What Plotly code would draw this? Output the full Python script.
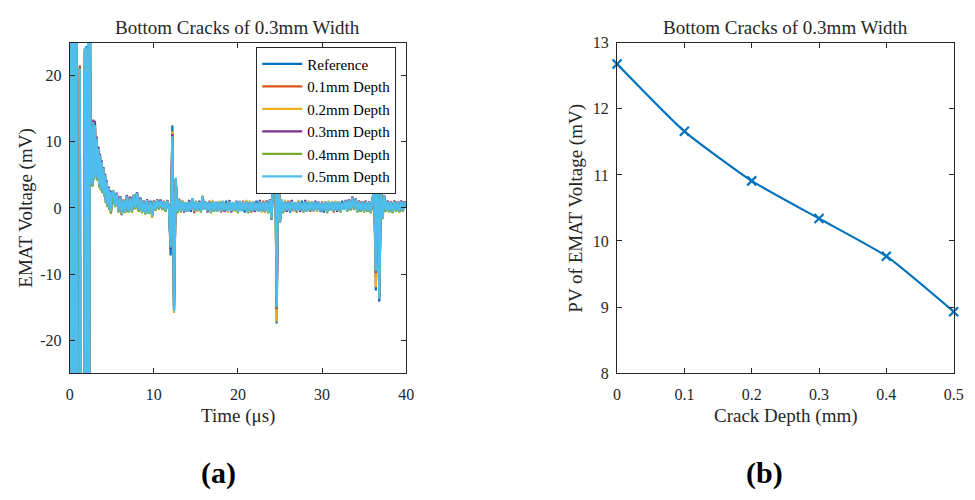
import plotly.graph_objects as go

# ---------------------------------------------------------------------------
# (a) EMAT received waveforms, bottom cracks of 0.3 mm width
# ---------------------------------------------------------------------------
# sampling grid: 0.1 us up to 5 us, then 0.2 us up to 40 us
t_us = [round(0.1 * i, 1) for i in range(51)] + [round(5.2 + 0.2 * i, 1) for i in range(175)]

v_ref = [
    5.5, -45, 60, -70, 70, -70, 60, -60, 50, -80,
    -90, -70, 20.5, -80, -90, -90, -90, -90, 24.0, -70,
    24.5, -60, 40, -40, 28, 4.5, 12.5, 3.8, 12.8, 4.8,
    12.2, 5.2, 10.2, 4.8, 8.8, 3.6, 7.8, 3.2, 6.8, 2.6,
    5.8, 2.2, 4.8, 1.2, 3.8, 0.6, 3.2, 0.2, 2.6, -0.3,
    2.2,
    2.4, 0.5, 2.0, -0.2, 1.8, -0.8, 1.0, -0.4, 2.0, -0.3,
    1.7, -0.2, 1.8, 0.2, 2.1, -0.5, 1.6, -0.4, 0.8, -0.6,
    1.0, -0.5, 1.1, -1.0, 0.8, -0.4, 1.0, 0.2, 1.3, -0.3,
    0.8, -0.5, 1.0, 0.3, -7.2, 12.5, -14.5, 3.8, -0.4, 1.1,
    -0.3, 0.9, -0.4, 0.8, -0.5, 0.9, -0.6, 1.4, -0.4, 0.8,
    -0.3, 0.8, -0.4, 1.7, -0.2, 0.9, -0.4, 0.8, -0.5, 0.9,
    -0.3, 0.9, -0.5, 0.8, -0.4, 1.0, -0.3, 1.1, -0.4, 0.9,
    -0.4, 0.8, -0.3, 0.9, -0.5, 1.0, -0.4, 0.8, -0.7, 0.9,
    -0.5, 0.8, -0.4, 0.9, -0.3, 1.1, -0.5, 0.9, -0.4, 0.8,
    -0.4, 0.9, -0.5, 1.1, -1.8, 5.5, 17.0, -17.5, 7.5, -2.2,
    1.1, -0.5, 0.9, -0.3, 0.8, -0.7, 0.9, -0.3, 0.8, -0.4,
    0.9, -0.3, 1.1, -0.4, 0.9, -0.5, 0.8, -0.3, 0.9, -0.4,
    0.8, -0.3, 0.9, -0.4, 0.7, -0.7, 0.9, -0.5, 0.8, -0.3,
    0.9, -0.4, 0.8, -0.3, 0.9, -0.4, 1.1, -0.2, 1.0, -0.3,
    1.1, -0.1, 1.5, 0.0, 1.4, -0.4, 0.9, -0.6, 0.8, -0.4,
    0.9, -0.3, 0.8, -0.5, 1.0, 3.5, -12.5, 15.0, -14.2, 3.5,
    -1.3, 1.6, -0.6, 0.9, -0.4, 0.8, -0.5, 0.9, -0.3, 0.8,
    -0.4, 0.9, -0.3, 0.8, 0.4,
]

v_01 = [
    5.0, -45, 60, -70, 70, -70, 60, -60, 50, -80,
    -90, -70, 21.6, -80, -90, -90, -90, -90, 24.0, -70,
    24.2, -60, 40, -40, 29, 4.2, 12.2, 3.6, 13.0, 4.4,
    12.6, 4.9, 10.6, 4.4, 9.2, 3.3, 8.1, 2.9, 7.1, 2.4,
    6.1, 1.9, 5.1, 0.9, 4.1, 0.4, 3.1, -0.1, 2.6, -0.6,
    2.1,
    2.5, 0.2, 2.3, -0.5, 1.5, -1.0, 1.3, -0.7, 1.7, -0.6,
    1.6, -0.5, 1.9, -0.1, 2.4, -0.2, 1.3, -0.7, 1.1, -0.9,
    1.3, -0.8, 0.8, -1.1, 1.1, -0.3, 1.3, -0.2, 1.0, -0.2,
    1.1, -0.4, 1.2, 0.0, -5.5, 11.0, -15.2, 4.3, -0.7, 1.4,
    -0.3, 0.9, -0.4, 0.8, -0.5, 0.9, -0.2, 1.4, -0.8, 0.8,
    -0.3, 0.8, -0.4, 1.7, -0.1, 0.9, -0.4, 1.1, -0.5, 0.9,
    -0.3, 0.9, -0.5, 0.8, -0.7, 1.0, -0.3, 0.7, -0.4, 0.9,
    -0.4, 0.8, -0.3, 0.9, -0.5, 1.0, -0.4, 1.1, -0.3, 0.9,
    -0.5, 0.8, -0.7, 0.9, -0.3, 0.7, -0.5, 0.9, -0.4, 1.1,
    -0.6, 1.1, -0.5, 1.1, -1.4, 4.8, 16.5, -15.8, 6.8, -1.9,
    1.2, -0.5, 0.9, -0.3, 1.1, -0.4, 0.9, -0.3, 0.8, -0.7,
    0.9, -0.3, 0.7, -0.4, 0.9, -0.5, 0.8, -0.6, 0.9, -0.4,
    0.8, -0.3, 0.9, -0.4, 1.0, -0.3, 0.9, -0.5, 0.8, -0.3,
    0.9, -0.7, 0.8, -0.3, 0.9, -0.4, 0.7, -0.2, 1.0, -0.3,
    1.3, -0.2, 1.7, 0.0, 1.2, -0.6, 1.1, -0.3, 0.8, -0.6,
    1.1, -0.3, 0.8, -0.7, 1.3, 2.8, -10.5, 14.5, -13.5, 2.8,
    -1.6, 1.7, -0.3, 1.1, -0.6, 0.8, -0.7, 1.1, -0.3, 0.8,
    -0.6, 1.1, -0.3, 0.8, 0.2,
]

v_02 = [
    4.5, -45, 60, -70, 70, -70, 60, -60, 50, -80,
    -90, -70, 21.0, -80, -90, -90, -90, -90, 24.2, -70,
    24.0, -60, 40, -40, 29, 4.0, 12.4, 3.4, 12.9, 4.3,
    12.4, 5.1, 10.4, 4.6, 9.1, 3.4, 7.9, 3.1, 6.9, 2.3,
    5.9, 2.1, 4.9, 1.1, 3.9, 0.3, 3.0, 0.1, 2.4, -0.7,
    2.0,
    2.7, 0.1, 2.1, -0.6, 1.7, -0.9, 1.1, -0.8, 1.9, -0.4,
    1.4, -0.6, 2.1, 0.1, 2.2, -0.4, 1.5, -0.5, 0.9, -0.7,
    1.1, -0.6, 1.0, -1.5, 0.9, -0.4, 1.1, -0.1, 1.2, 0.0,
    0.9, -0.4, 0.9, 0.2, -5.0, 11.6, -15.9, 4.0, -0.5, 1.2,
    -0.3, 1.2, -0.4, 0.8, -0.5, 0.9, -0.2, 1.4, -0.4, 0.8,
    -0.6, 0.8, -0.4, 1.9, -0.1, 0.9, -0.4, 0.8, -0.5, 1.2,
    -0.3, 0.9, -0.5, 1.1, -0.4, 1.0, -0.3, 0.7, -0.7, 0.9,
    -0.4, 0.8, -0.6, 0.9, -0.5, 1.0, -0.4, 0.8, -0.3, 1.2,
    -0.5, 1.1, -0.4, 0.9, -0.3, 0.7, -0.5, 0.9, -0.7, 0.8,
    -0.4, 0.9, -0.5, 1.1, -1.6, 5.2, 16.2, -17.2, 7.2, -2.1,
    1.2, -0.5, 1.2, -0.3, 0.8, -0.4, 0.9, -0.6, 0.8, -0.4,
    1.2, -0.3, 0.7, -0.4, 0.9, -0.5, 1.1, -0.3, 0.9, -0.6,
    0.8, -0.6, 0.9, -0.4, 0.7, -0.3, 0.9, -0.5, 1.1, -0.3,
    0.9, -0.4, 1.1, -0.3, 0.9, -0.6, 0.7, -0.2, 1.0, -0.3,
    1.1, -0.3, 1.5, -0.2, 1.4, -0.4, 0.9, -0.5, 1.0, -0.4,
    0.9, -0.5, 1.0, -0.5, 1.1, 3.2, -12.0, 14.2, -13.6, 3.2,
    -1.4, 1.7, -0.5, 0.9, -0.4, 1.0, -0.5, 0.9, -0.5, 1.0,
    -0.4, 0.9, -0.5, 1.0, 0.3,
]

v_03 = [
    5.0, -45, 60, -70, 70, -70, 60, -60, 50, -80,
    -90, -70, 21.3, -80, -90, -90, -90, -90, 23.5, -70,
    23.8, -60, 40, -40, 28, 4.1, 12.8, 3.3, 13.4, 4.6,
    13.2, 4.8, 10.8, 4.3, 9.3, 3.2, 8.2, 2.8, 7.2, 2.3,
    6.2, 1.8, 5.2, 0.8, 4.2, 0.2, 3.2, -0.2, 2.7, -0.8,
    2.3,
    2.5, 0.4, 2.3, -0.3, 1.7, -1.1, 1.1, -0.5, 1.9, -0.6,
    1.6, -0.3, 1.9, 0.1, 2.4, -0.4, 1.5, -0.5, 1.1, -0.7,
    1.3, -0.6, 1.0, -1.1, 1.1, -0.1, 1.3, 0.1, 1.2, 0.0,
    1.0, -0.4, 1.1, 0.2, -6.2, 11.2, -15.4, 4.4, -0.5, 1.3,
    -0.3, 0.9, -0.7, 0.8, -0.5, 1.2, -0.2, 1.4, -0.4, 0.8,
    -0.3, 1.1, -0.4, 1.7, -0.1, 0.9, -0.7, 0.8, -0.5, 0.9,
    -0.3, 0.9, -0.5, 0.8, -0.4, 1.0, -0.6, 0.7, -0.4, 1.2,
    -0.7, 0.8, -0.3, 1.1, -0.5, 1.0, -0.4, 0.8, -0.3, 0.9,
    -0.5, 0.8, -0.4, 0.9, -0.6, 0.7, -0.5, 1.2, -0.4, 0.8,
    -0.6, 1.1, -0.5, 1.3, -1.5, 5.1, 16.2, -15.3, 7.1, -2.0,
    1.2, -0.5, 0.9, -0.6, 0.8, -0.4, 1.2, -0.3, 0.8, -0.4,
    0.9, -0.6, 0.7, -0.4, 1.2, -0.5, 0.8, -0.3, 0.9, -0.4,
    1.1, -0.3, 0.9, -0.6, 0.7, -0.3, 0.9, -0.5, 0.8, -0.3,
    0.9, -0.4, 0.8, -0.6, 0.9, -0.4, 0.7, -0.2, 1.2, -0.3,
    1.3, -0.3, 1.7, -0.2, 1.4, -0.4, 1.1, -0.5, 1.0, -0.4,
    1.1, -0.5, 1.0, -0.5, 1.3, 3.1, -9.8, 14.3, -13.9, 3.1,
    -1.5, 1.9, -0.5, 1.1, -0.4, 1.0, -0.5, 1.1, -0.5, 1.0,
    -0.4, 1.1, -0.5, 1.0, 0.4,
]

v_04 = [
    4.8, -45, 60, -70, 70, -70, 60, -60, 50, -80,
    -90, -70, 21.2, -80, -90, -90, -90, -90, 24.1, -70,
    24.0, -60, 40, -40, 29, 4.4, 12.3, 3.2, 12.7, 4.2,
    12.3, 4.7, 10.3, 4.1, 8.9, 3.1, 7.7, 2.6, 6.7, 2.2,
    5.7, 1.7, 4.7, 0.7, 3.7, 0.1, 2.9, -0.3, 2.3, -0.9,
    1.9,
    2.3, 0.2, 2.0, -0.7, 1.4, -1.0, 1.0, -0.7, 1.6, -0.7,
    1.3, -0.7, 1.8, -0.2, 2.1, -0.6, 1.3, -0.8, 0.9, -1.0,
    1.0, -0.9, 0.8, -1.3, 0.9, -0.4, 1.0, -0.2, 1.0, -0.3,
    0.8, -0.6, 1.0, -0.1, -5.8, 10.9, -15.5, 4.2, -0.8, 1.1,
    -0.7, 0.9, -0.4, 0.8, -0.5, 0.9, -0.2, 1.4, -0.4, 1.1,
    -0.3, 0.8, -0.7, 1.7, -0.1, 0.9, -0.4, 0.8, -0.8, 0.9,
    -0.6, 0.9, -0.5, 0.8, -0.4, 1.0, -0.3, 0.7, -0.4, 0.9,
    -0.4, 0.8, -0.3, 0.9, -0.8, 1.0, -0.4, 0.8, -0.3, 0.9,
    -0.8, 0.8, -0.4, 0.9, -0.3, 0.7, -0.5, 0.9, -0.4, 0.8,
    -0.7, 0.9, -0.8, 1.0, -1.7, 4.9, 15.8, -15.1, 6.9, -2.1,
    1.1, -0.8, 0.9, -0.3, 0.8, -0.4, 0.9, -0.3, 0.8, -0.4,
    0.9, -0.3, 0.7, -0.7, 0.9, -0.5, 0.8, -0.3, 0.9, -0.4,
    0.8, -0.3, 0.9, -0.4, 0.7, -0.3, 0.9, -0.8, 0.8, -0.3,
    0.9, -0.4, 0.8, -0.3, 0.9, -0.7, 0.7, -0.2, 1.0, -0.6,
    1.1, -0.4, 1.5, -0.3, 1.2, -0.7, 0.9, -0.6, 0.8, -0.7,
    0.9, -0.6, 0.8, -0.8, 1.1, 2.9, -9.6, 13.8, -13.7, 2.9,
    -1.7, 1.6, -0.6, 0.9, -0.7, 0.8, -0.8, 0.9, -0.6, 0.8,
    -0.7, 0.9, -0.6, 0.8, 0.1,
]

v_05 = [
    5.0, -45, 60, -70, 70, -70, 60, -60, 50, -80,
    -90, -70, 21.0, -80, -90, -90, -90, -90, 24.3, -70,
    24.3, -60, 40, -40, 30, 4.0, 12.0, 3.5, 13.0, 4.5,
    12.5, 5.0, 10.5, 4.5, 9.0, 3.5, 8.0, 3.0, 7.0, 2.5,
    6.0, 2.0, 5.0, 1.0, 4.0, 0.5, 3.0, 0.0, 2.5, -0.5,
    2.0,
    2.6, 0.3, 2.2, -0.4, 1.6, -0.9, 1.2, -0.6, 1.8, -0.5,
    1.5, -0.4, 2.0, 0.0, 2.3, -0.3, 1.4, -0.6, 1.0, -0.8,
    1.2, -0.7, 0.9, -1.2, 1.0, -0.2, 1.2, 0.0, 1.1, -0.1,
    1.0, -0.3, 1.1, 0.1, -6.0, 10.8, -15.6, 4.6, -0.6, 1.3,
    -0.4, 1.0, -0.5, 0.9, -0.6, 1.0, -0.3, 1.5, -0.5, 0.9,
    -0.4, 0.9, -0.5, 1.8, -0.2, 1.0, -0.5, 0.9, -0.6, 1.0,
    -0.4, 1.0, -0.6, 0.9, -0.5, 1.1, -0.4, 0.8, -0.5, 1.0,
    -0.5, 0.9, -0.4, 1.0, -0.6, 1.1, -0.5, 0.9, -0.4, 1.0,
    -0.6, 0.9, -0.5, 1.0, -0.4, 0.8, -0.6, 1.0, -0.5, 0.9,
    -0.5, 1.0, -0.6, 1.2, -1.5, 5.0, 16.0, -15.0, 7.0, -2.0,
    1.3, -0.6, 1.0, -0.4, 0.9, -0.5, 1.0, -0.4, 0.9, -0.5,
    1.0, -0.4, 0.8, -0.5, 1.0, -0.6, 0.9, -0.4, 1.0, -0.5,
    0.9, -0.4, 1.0, -0.5, 0.8, -0.4, 1.0, -0.6, 0.9, -0.4,
    1.0, -0.5, 0.9, -0.4, 1.0, -0.5, 0.8, -0.3, 1.1, -0.4,
    1.2, -0.2, 1.6, -0.1, 1.3, -0.5, 1.0, -0.4, 0.9, -0.5,
    1.0, -0.4, 0.9, -0.6, 1.2, 3.0, -9.5, 14.0, -13.8, 3.0,
    -1.5, 1.8, -0.4, 1.0, -0.5, 0.9, -0.6, 1.0, -0.4, 0.9,
    -0.5, 1.0, -0.4, 0.9, 0.3,
]

wave_names = ["Reference", "0.1mm Depth", "0.2mm Depth", "0.3mm Depth", "0.4mm Depth", "0.5mm Depth"]
wave_values = [v_ref, v_01, v_02, v_03, v_04, v_05]
wave_colors = ["#0072BD", "#D95319", "#EDB120", "#7E2F8E", "#77AC30", "#4DBEEE"]

# ---------------------------------------------------------------------------
# (b) peak value of the EMAT voltage against crack depth
# ---------------------------------------------------------------------------
crack_depth_mm = [0.0, 0.1, 0.2, 0.3, 0.4, 0.5]
pv_mv = [12.68, 11.66, 10.91, 10.34, 9.77, 8.93]

for vals in wave_values:
    assert len(vals) == len(t_us)

FONT = "Liberation Serif"
AXIS_COLOR = "#262626"
FIG_W, FIG_H = 975, 500


def px_x(x):
    return x / FIG_W


def px_y(y):
    return 1 - y / FIG_H


fig = go.Figure()

for name, vals, col in zip(wave_names, wave_values, wave_colors):
    fig.add_trace(go.Scatter(
        x=t_us, y=vals, name=name, mode="lines",
        line=dict(color=col, width=2.2, simplify=False),
        xaxis="x", yaxis="y",
    ))

fig.add_trace(go.Scatter(
    x=crack_depth_mm, y=pv_mv, mode="lines+markers", showlegend=False,
    line=dict(color="#0072BD", width=2.2, shape="spline", smoothing=0.5),
    marker=dict(symbol="x-thin", size=9, line=dict(color="#0072BD", width=2.2)),
    xaxis="x2", yaxis="y2", cliponaxis=False,
))

axis_common = dict(
    showline=True, linecolor=AXIS_COLOR, linewidth=1, mirror="allticks",
    ticks="inside", ticklen=5, tickcolor=AXIS_COLOR, tickwidth=1,
    showgrid=False, zeroline=False,
    tickfont=dict(family=FONT, size=16, color=AXIS_COLOR),
)

ydom = [px_y(378), px_y(36)]

fig.update_layout(
    width=FIG_W, height=FIG_H,
    margin=dict(l=0, r=0, t=0, b=0),
    paper_bgcolor="white", plot_bgcolor="white",
    showlegend=True,
    xaxis=dict(domain=[px_x(66.7), px_x(408)], range=[0, 40],
               tickvals=[0, 10, 20, 30, 40], anchor="y",
               ticklabelstandoff=7, **axis_common),
    yaxis=dict(domain=ydom, range=[-25, 25],
               tickvals=[-20, -10, 0, 10, 20],
               ticktext=["-20", "-10", "0", "10", "20"], anchor="x",
               ticklabelstandoff=4, **axis_common),
    xaxis2=dict(domain=[px_x(622), px_x(963.5)], range=[0, 0.5],
                tickvals=[0, 0.1, 0.2, 0.3, 0.4, 0.5],
                ticktext=["0", "0.1", "0.2", "0.3", "0.4", "0.5"], anchor="y2",
                ticklabelstandoff=7, **axis_common),
    yaxis2=dict(domain=ydom, range=[8, 13], tickvals=[8, 9, 10, 11, 12, 13],
                anchor="x2", ticklabelstandoff=4, **axis_common),
    legend=dict(
        x=px_x(398), y=px_y(40), xanchor="right", yanchor="top",
        bgcolor="white", bordercolor=AXIS_COLOR, borderwidth=1,
        font=dict(family=FONT, size=15, color="black"),
        tracegroupgap=0, itemwidth=40,
    ),
)


def label(text, x_px, y_px, size, angle=0, bold=False, color=AXIS_COLOR):
    fig.add_annotation(
        text=f"<b>{text}</b>" if bold else text,
        x=px_x(x_px), y=px_y(y_px), xref="paper", yref="paper",
        showarrow=False, textangle=angle, xanchor="center", yanchor="middle",
        font=dict(family=FONT, size=size, color=color),
    )


label("Bottom Cracks of 0.3mm Width", 237, 20, 19)
label("Bottom Cracks of 0.3mm Width", 793, 20, 19)
label("Time (μs)", 237, 422, 19)
label("Crack Depth (mm)", 793, 422, 19)
label("EMAT Voltage (mV)", 22, 207, 19, angle=-90)
label("PV of EMAT Voltage (mV)", 580, 207, 19, angle=-90)
label("(a)", 218, 481, 30, bold=True, color="black")
label("(b)", 772, 481, 30, bold=True, color="black")

fig.write_html("out.html")
